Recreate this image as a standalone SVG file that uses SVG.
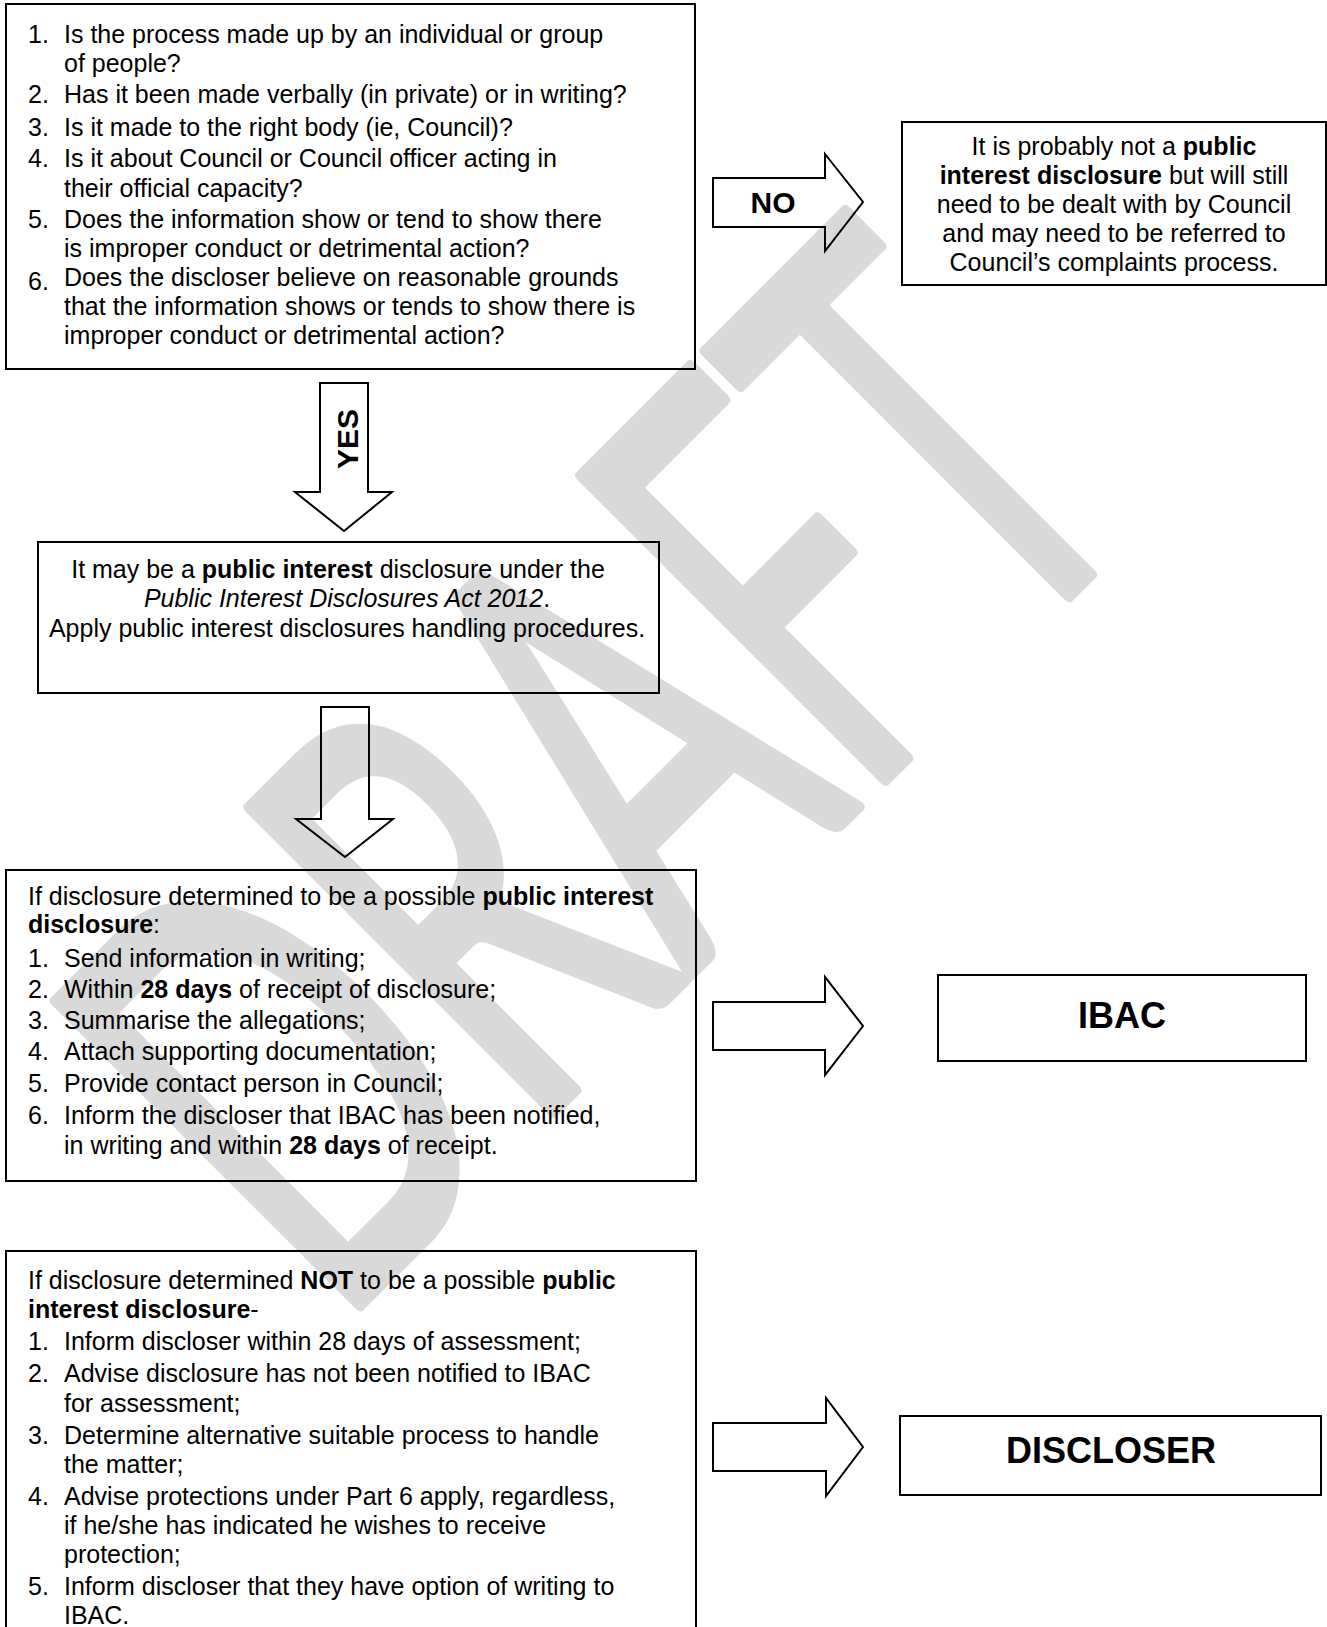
<svg xmlns="http://www.w3.org/2000/svg" width="1327" height="1627" viewBox="0 0 1327 1627">
<style>
.box{fill:none;stroke:#000;stroke-width:2}
.arr{fill:none;stroke:#000;stroke-width:2;stroke-linejoin:miter}
text{font-family:"Liberation Sans",Arial,sans-serif;font-size:25px;fill:#000}
.c{text-anchor:middle}
.b{font-weight:bold}
.big{font-size:36px;font-weight:bold;text-anchor:middle}
.lbl{font-size:30px;font-weight:bold;text-anchor:middle}
.wm{font-family:Lato,"Open Sans",sans-serif;font-size:600px;font-weight:normal;fill:#d9d9d9;stroke:#d9d9d9;stroke-width:12;stroke-linejoin:round;text-anchor:middle}
</style>
<rect width="1327" height="1627" fill="#fff"/>
<g id="watermark">
<text class="wm" transform="translate(745,920) rotate(-45) scale(0.6,1)">DRAFT</text>
</g>
<g id="connectors">
<path class="arr" d="M713,178 H825 V154 L863,202 L825,251 V227 H713 Z"/>
<text class="lbl" x="773" y="213">NO</text>
<path class="arr" d="M320,383 V492 H295 L344,531 L392,492 H368 V383 Z"/>
<text class="lbl" transform="translate(358,439) rotate(-90)">YES</text>
<path class="arr" d="M321,707 V819 H296 L345,857 L393,819 H369 V707 Z"/>
<path class="arr" d="M713,1002 H825 V977 L863,1026 L825,1075 V1050 H713 Z"/>
<path class="arr" d="M713,1423 H826 V1398 L863,1447 L826,1496 V1471 H713 Z"/>
</g>
<g id="questions">
<rect class="box" x="6" y="4" width="689" height="365"/>
<text x="28" y="43">1.</text><text x="64" y="43">Is the process made up by an individual or group</text>
<text x="64" y="72">of people?</text>
<text x="28" y="103">2.</text><text x="64" y="103">Has it been made verbally (in private) or in writing?</text>
<text x="28" y="136">3.</text><text x="64" y="136">Is it made to the right body (ie, Council)?</text>
<text x="28" y="167">4.</text><text x="64" y="167">Is it about Council or Council officer acting in</text>
<text x="64" y="197">their official capacity?</text>
<text x="28" y="228">5.</text><text x="64" y="228">Does the information show or tend to show there</text>
<text x="64" y="257">is improper conduct or detrimental action?</text>
<text x="28" y="290">6.</text><text x="64" y="286">Does the discloser believe on reasonable grounds</text>
<text x="64" y="315">that the information shows or tends to show there is</text>
<text x="64" y="344">improper conduct or detrimental action?</text>
</g>
<g id="not-pid">
<rect class="box" x="902" y="122" width="424" height="163"/>
<text class="c" x="1114" y="155">It is probably not a <tspan class="b">public</tspan></text>
<text class="c" x="1114" y="184"><tspan class="b">interest disclosure</tspan> but will still</text>
<text class="c" x="1114" y="213">need to be dealt with by Council</text>
<text class="c" x="1114" y="242">and may need to be referred to</text>
<text class="c" x="1114" y="271">Council’s complaints process.</text>
</g>
<g id="may-be-pid">
<rect class="box" x="38" y="542" width="621" height="151"/>
<text class="c" x="338" y="578">It may be a <tspan class="b">public interest</tspan> disclosure under the</text>
<text class="c" x="347" y="607"><tspan font-style="italic">Public Interest Disclosures Act 2012</tspan>.</text>
<text class="c" x="347" y="637">Apply public interest disclosures handling procedures.</text>
</g>
<g id="is-pid">
<rect class="box" x="6" y="870" width="690" height="311"/>
<text x="28" y="905">If disclosure determined to be a possible <tspan class="b">public interest</tspan></text>
<text x="28" y="933"><tspan class="b">disclosure</tspan>:</text>
<text x="28" y="967">1.</text><text x="64" y="967">Send information in writing;</text>
<text x="28" y="998">2.</text><text x="64" y="998">Within <tspan class="b">28 days</tspan> of receipt of disclosure;</text>
<text x="28" y="1029">3.</text><text x="64" y="1029">Summarise the allegations;</text>
<text x="28" y="1060">4.</text><text x="64" y="1060">Attach supporting documentation;</text>
<text x="28" y="1092">5.</text><text x="64" y="1092">Provide contact person in Council;</text>
<text x="28" y="1124">6.</text><text x="64" y="1124">Inform the discloser that IBAC has been notified,</text>
<text x="64" y="1154">in writing and within <tspan class="b">28 days</tspan> of receipt.</text>
</g>
<g id="ibac">
<rect class="box" x="938" y="975" width="368" height="86"/>
<text class="big" x="1122" y="1028">IBAC</text>
</g>
<g id="not-pid-steps">
<rect class="box" x="6" y="1251" width="690" height="400"/>
<text x="28" y="1289">If disclosure determined <tspan class="b">NOT</tspan> to be a possible <tspan class="b">public</tspan></text>
<text x="28" y="1318"><tspan class="b">interest disclosure</tspan>-</text>
<text x="28" y="1350">1.</text><text x="64" y="1350">Inform discloser within 28 days of assessment;</text>
<text x="28" y="1382">2.</text><text x="64" y="1382">Advise disclosure has not been notified to IBAC</text>
<text x="64" y="1412">for assessment;</text>
<text x="28" y="1444">3.</text><text x="64" y="1444">Determine alternative suitable process to handle</text>
<text x="64" y="1473">the matter;</text>
<text x="28" y="1505">4.</text><text x="64" y="1505">Advise protections under Part 6 apply, regardless,</text>
<text x="64" y="1534">if he/she has indicated he wishes to receive</text>
<text x="64" y="1563">protection;</text>
<text x="28" y="1595">5.</text><text x="64" y="1595">Inform discloser that they have option of writing to</text>
<text x="64" y="1624">IBAC.</text>
</g>
<g id="discloser">
<rect class="box" x="900" y="1416" width="421" height="79"/>
<text class="big" x="1111" y="1463" font-size="37">DISCLOSER</text>
</g>
</svg>
